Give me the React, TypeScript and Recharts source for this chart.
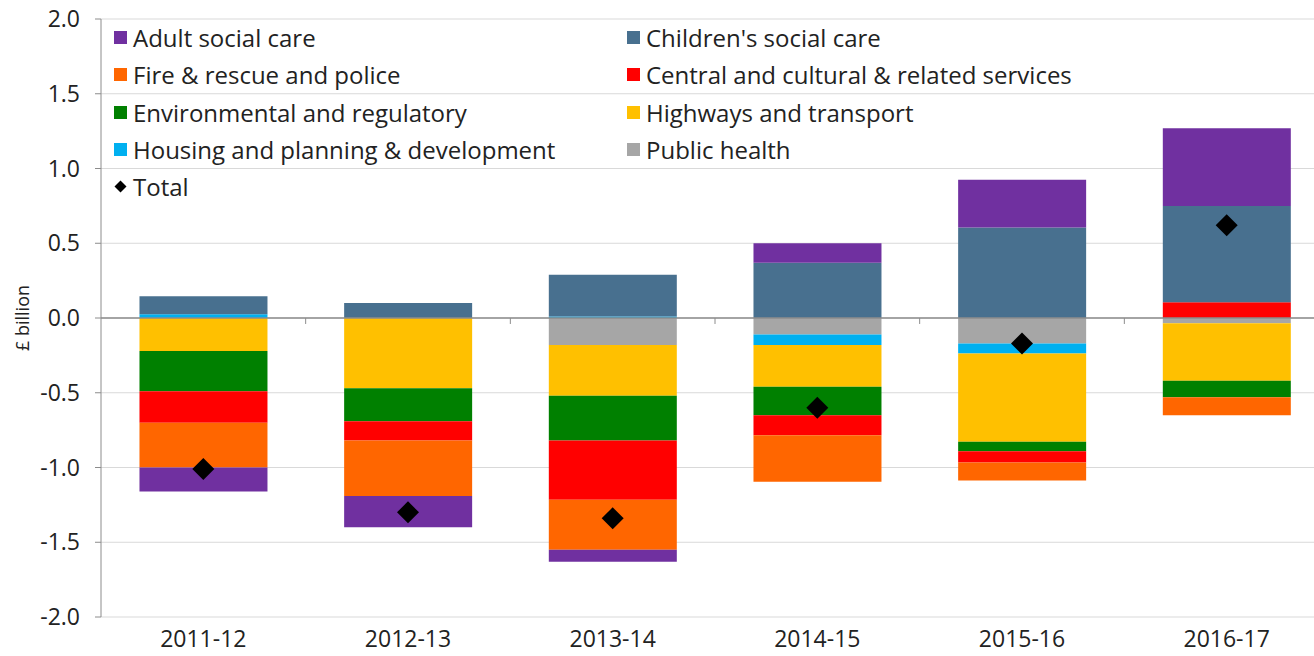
import React from 'react';
import {
  ComposedChart,
  Bar,
  Line,
  XAxis,
  YAxis,
  CartesianGrid,
  ReferenceLine,
  Legend,
} from 'recharts';

const years = ['2011-12', '2012-13', '2013-14', '2014-15', '2015-16', '2016-17'];

const adultSocialCare = [-0.16, -0.21, -0.08, 0.13, 0.32, 0.52];
const childrensSocialCare = [0.12, 0.1, 0.28, 0.37, 0.605, 0.645];
const fireAndPolice = [-0.3, -0.37, -0.335, -0.31, -0.12, -0.12];
const centralCultural = [-0.21, -0.13, -0.395, -0.135, -0.075, 0.105];
const environmental = [-0.27, -0.22, -0.3, -0.19, -0.065, -0.11];
const highways = [-0.22, -0.47, -0.34, -0.28, -0.59, -0.385];
const housingPlanning = [0.025, 0, 0.01, -0.07, -0.067, 0];
const publicHealth = [0, 0, -0.18, -0.11, -0.17, -0.035];
const total = [-1.01, -1.3, -1.34, -0.6, -0.17, 0.62];

const yTicks = [-2, -1.5, -1, -0.5, 0, 0.5, 1, 1.5, 2];

const FONT = '"Open Sans", "DejaVu Sans", sans-serif';
const TEXT = '#222222';
const AXIS = '#8c8c8c';

// stacking order: the first series sits next to the zero line
const series = [
  { key: 'publicHealth', name: 'Public health', color: '#a6a6a6', values: publicHealth },
  { key: 'housing', name: 'Housing and planning & development', color: '#00b0f0', values: housingPlanning },
  { key: 'highways', name: 'Highways and transport', color: '#ffc000', values: highways },
  { key: 'environmental', name: 'Environmental and regulatory', color: '#008000', values: environmental },
  { key: 'central', name: 'Central and cultural & related services', color: '#ff0000', values: centralCultural },
  { key: 'fire', name: 'Fire & rescue and police', color: '#ff6600', values: fireAndPolice },
  { key: 'children', name: "Children's social care", color: '#48708f', values: childrensSocialCare },
  { key: 'adult', name: 'Adult social care', color: '#7030a0', values: adultSocialCare },
];

const legendLeft = ['adult', 'fire', 'environmental', 'housing'];
const legendRight = ['children', 'central', 'highways', 'publicHealth'];

const rows = years.map((year, i) => {
  const row: Record<string, string | number> = { year, total: total[i] };
  series.forEach((s) => {
    row[s.key] = s.values[i];
  });
  return row;
});

const Diamond = (props: any) => {
  const { cx, cy, index } = props;
  if (cx == null || cy == null) return <g key={index} />;
  const r = 11;
  return (
    <polygon
      key={index}
      points={`${cx},${cy - r} ${cx + r},${cy} ${cx},${cy + r} ${cx - r},${cy}`}
      fill="#000"
    />
  );
};

const ROW_H = 37.3;

const LegendItem = ({ k }: { k: string }) => {
  const s = series.find((x) => x.key === k)!;
  return (
    <div style={{ height: ROW_H, display: 'flex', alignItems: 'center' }}>
      <span style={{ width: 13, height: 13, background: s.color, display: 'inline-block', marginRight: 6 }} />
      <span>{s.name}</span>
    </div>
  );
};

const ChartLegend = () => (
  <div style={{ display: 'flex', fontFamily: FONT, fontSize: 24, color: TEXT, whiteSpace: 'nowrap' }}>
    <div style={{ width: 513 }}>
      {legendLeft.map((k) => (
        <LegendItem key={k} k={k} />
      ))}
      <div style={{ height: ROW_H, display: 'flex', alignItems: 'center' }}>
        <svg width={13} height={13} style={{ marginRight: 6 }}>
          <polygon points="6.5,0.5 12.5,6.5 6.5,12.5 0.5,6.5" fill="#000" />
        </svg>
        <span>Total</span>
      </div>
    </div>
    <div>
      {legendRight.map((k) => (
        <LegendItem key={k} k={k} />
      ))}
    </div>
  </div>
);

const AxisTitle = (props: any) => {
  const { viewBox } = props;
  const x = viewBox.x + 22;
  const y = viewBox.y + viewBox.height / 2;
  return (
    <text
      x={x}
      y={y}
      transform={`rotate(-90, ${x}, ${y})`}
      textAnchor="middle"
      dominantBaseline="central"
      fontFamily={FONT}
      fontSize={18}
      fill={TEXT}
    >
      £ billion
    </text>
  );
};

export default function App() {
  return (
    <div
      style={{
        position: 'absolute',
        left: 0,
        top: 0,
        width: 1314,
        height: 656,
        overflow: 'hidden',
        background: '#fff',
      }}
    >
      <ComposedChart
        width={1340}
        height={656}
        data={rows}
        stackOffset="sign"
        barCategoryGap="18.8%"
        margin={{ top: 19, right: 11, bottom: 0, left: 0 }}
      >
        <CartesianGrid vertical={false} stroke="#d9d9d9" />
        <XAxis
          dataKey="year"
          height={39}
          axisLine={false}
          tickLine={false}
          tickSize={0}
          tickMargin={14}
          interval={0}
          tick={{ fill: TEXT, fontSize: 23, fontFamily: FONT }}
        />
        <YAxis
          domain={[-2, 2]}
          ticks={yTicks}
          interval={0}
          width={101}
          allowDataOverflow
          tickFormatter={(v: number) => v.toFixed(1)}
          axisLine={{ stroke: AXIS }}
          tickLine={{ stroke: AXIS }}
          tickSize={6}
          tickMargin={15}
          tick={{ fill: TEXT, fontSize: 23, fontFamily: FONT }}
          label={{ content: AxisTitle }}
        />
        <Legend
          layout="vertical"
          align="center"
          verticalAlign="middle"
          content={() => <ChartLegend />}
          wrapperStyle={{ top: 19, left: 114, width: 1150 }}
        />
        {series.map((s) => (
          <Bar
            key={s.key}
            dataKey={s.key}
            name={s.name}
            stackId="a"
            fill={s.color}
            isAnimationActive={false}
          />
        ))}
        <ReferenceLine y={0} stroke={AXIS} strokeWidth={1.5} />
        {years.slice(1).map((y) => (
          <ReferenceLine
            key={y}
            segment={[
              { x: y, y: 0 },
              { x: y, y: -0.04 },
            ]}
            position="start"
            stroke={AXIS}
          />
        ))}
        <Line
          dataKey="total"
          name="Total"
          stroke="none"
          dot={(p: any) => <Diamond key={p.index} {...p} />}
          activeDot={false}
          isAnimationActive={false}
        />
      </ComposedChart>
    </div>
  );
}
